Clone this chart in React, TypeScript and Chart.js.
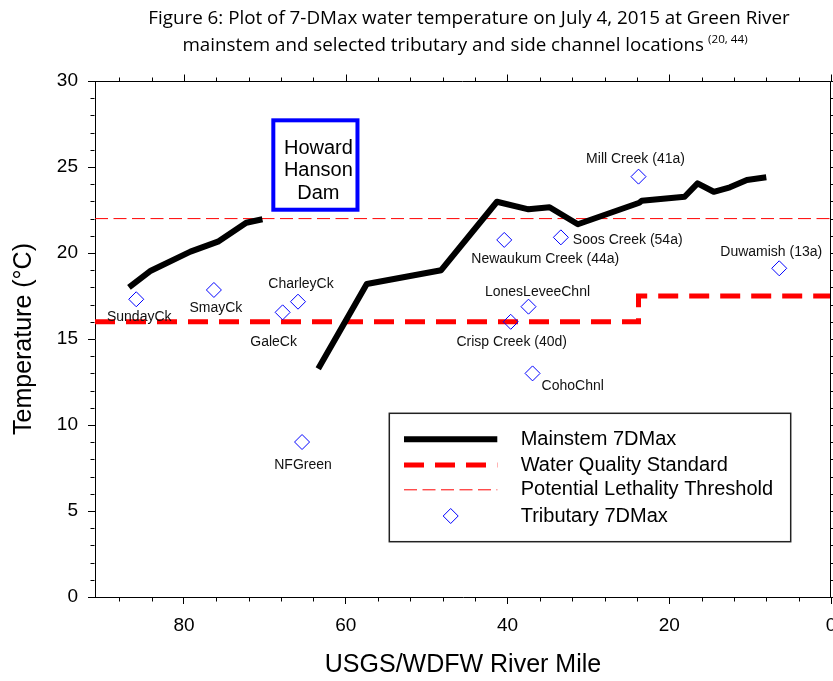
import React, { useEffect, useRef } from 'react';
import { Chart, registerables } from 'chart.js';

Chart.register(...registerables);

const FONT = '"Liberation Sans", Arial, Helvetica, sans-serif';
Chart.defaults.font.family = FONT;

// ---- Data ----
const mainstemMiles = [86.8, 84.1, 79.2, 75.8, 72.3, 70.3, 66.8, 63.4, 57.4, 48.2, 41.3, 37.4, 34.8, 31.3, 23.7, 23.4, 18.1, 16.5, 14.5, 12.5, 10.4, 8.0];
const mainstemTemps: (number | null)[] = [18.0, 18.97, 20.08, 20.66, 21.76, 21.96, null, 13.27, 18.2, 19.0, 22.98, 22.54, 22.66, 21.67, 22.92, 23.04, 23.27, 24.05, 23.56, 23.82, 24.24, 24.4];

const standardMiles = [91, 23.8, 23.8, 0];
const standardTemps = [16, 16, 17.5, 17.5];

const lethalMiles = [91, 0];
const lethalTemps = [22, 22];

const tribNames = ['SundayCk', 'SmayCk', 'GaleCk', 'CharleyCk', 'NFGreen', 'Newaukum Creek (44a)', 'Soos Creek (54a)', 'Mill Creek (41a)', 'Duwamish (13a)', 'LonesLeveeChnl', 'Crisp Creek (40d)', 'CohoChnl'];
const tribMiles = [85.9, 76.3, 67.8, 65.9, 65.4, 40.4, 33.4, 23.8, 6.4, 37.4, 39.6, 36.9];
const tribTemps = [17.31, 17.85, 16.55, 17.17, 9.01, 20.76, 20.91, 24.44, 19.11, 16.88, 16.0, 13.0];

const xTickStep = 20;
const yTickStep = 5;

// Dam annotation (data coordinates)
const damMiles = [69.2, 58.3];
const damTemps = [27.83, 22.4];
const damText = ['Howard', 'Hanson', 'Dam'];

const titleLine1 = 'Figure 6: Plot of 7-DMax water temperature on July 4, 2015 at Green River';
const titleLine2 = 'mainstem and selected tributary and side channel locations';
const titleSup = '(20, 44)';

const legendLabels = ['Mainstem 7DMax', 'Water Quality Standard', 'Potential Lethality Threshold', 'Tributary 7DMax'];

// label placement offsets (px) relative to each tributary marker
const labelOffsets: [number, number, CanvasTextAlign][] = [
  [3, 18, 'center'],
  [2, 18, 'center'],
  [-9, 30, 'center'],
  [3, -18, 'center'],
  [1, 23, 'center'],
  [41, 19, 'center'],
  [12, 3, 'left'],
  [-3, -17, 'center'],
  [-8, -16, 'center'],
  [9, -15, 'center'],
  [1, 20, 'center'],
  [9, 13, 'left'],
];

const BLUE = '#0000ff';
const RED = '#ff0000';

const decorPlugin = {
  id: 'decor',
  afterDraw(chart: any) {
    const { ctx, chartArea: ca, scales } = chart;
    const xs = scales.x;
    const ys = scales.y;
    ctx.save();

    // frame top/right + minor ticks
    ctx.strokeStyle = '#000';
    ctx.lineWidth = 1;
    ctx.beginPath();
    const top = Math.round(ca.top) + 0.5;
    const right = Math.round(ca.right) - 0.5;
    const bottom = Math.round(ca.bottom) + 0.5;
    const left = Math.round(ca.left) - 0.5;
    ctx.moveTo(left, top);
    ctx.lineTo(right, top);
    ctx.moveTo(right, top);
    ctx.lineTo(right, bottom);
    for (let m = 0; m <= 91; m += 4) {
      const px = Math.round(xs.getPixelForValue(m)) + 0.5;
      const major = m % xTickStep === 0;
      const len = major ? 7 : 4;
      ctx.moveTo(px, top);
      ctx.lineTo(px, top - len);
      if (!major) {
        ctx.moveTo(px, bottom);
        ctx.lineTo(px, bottom + 4);
      }
    }
    for (let t = 0; t <= 30; t += 1) {
      const py = Math.round(ys.getPixelForValue(t)) + 0.5;
      const major = t % yTickStep === 0;
      const len = major ? 7 : 4;
      ctx.moveTo(right, py);
      ctx.lineTo(right + len, py);
      if (!major) {
        ctx.moveTo(left, py);
        ctx.lineTo(left - 4, py);
      }
    }
    ctx.stroke();

    // tributary labels
    ctx.fillStyle = '#111';
    ctx.font = `14px ${FONT}`;
    ctx.textBaseline = 'middle';
    tribNames.forEach((name, i) => {
      const px = xs.getPixelForValue(tribMiles[i]);
      const py = ys.getPixelForValue(tribTemps[i]);
      const [dx, dy, align] = labelOffsets[i];
      ctx.textAlign = align;
      ctx.fillText(name, px + dx, py + dy);
    });

    // dam box
    const bx1 = xs.getPixelForValue(damMiles[0]);
    const bx2 = xs.getPixelForValue(damMiles[1]);
    const by1 = ys.getPixelForValue(damTemps[0]);
    const by2 = ys.getPixelForValue(damTemps[1]);
    ctx.strokeStyle = BLUE;
    ctx.lineWidth = 4;
    ctx.strokeRect(bx1 + 2, by1 + 2, bx2 - bx1 - 4, by2 - by1 - 4);
    ctx.fillStyle = '#000';
    ctx.font = `20px ${FONT}`;
    ctx.textAlign = 'center';
    const bcx = (bx1 + bx2) / 2 + 3;
    const bcy = (by1 + by2) / 2;
    damText.forEach((t, i) => ctx.fillText(t, bcx, bcy - 17 + i * 22.5));

    // legend
    const lx = ca.left + 294.3;
    const ly = ca.top + 332.3;
    const lw = 401.4;
    const lh = 128.4;
    ctx.fillStyle = '#fff';
    ctx.fillRect(lx, ly, lw, lh);
    ctx.strokeStyle = '#222';
    ctx.lineWidth = 1.5;
    ctx.strokeRect(lx, ly, lw, lh);
    const rows = [26, 51.7, 76, 102.7];
    const sx1 = lx + 14.7;
    const sx2 = lx + 108;
    ctx.setLineDash([]);
    ctx.strokeStyle = '#000';
    ctx.lineWidth = 6;
    ctx.beginPath();
    ctx.moveTo(sx1, ly + rows[0]);
    ctx.lineTo(sx2, ly + rows[0]);
    ctx.stroke();
    ctx.strokeStyle = RED;
    ctx.lineWidth = 5;
    ctx.setLineDash([20, 11]);
    ctx.beginPath();
    ctx.moveTo(sx1, ly + rows[1]);
    ctx.lineTo(sx2, ly + rows[1]);
    ctx.stroke();
    ctx.lineWidth = 1;
    ctx.setLineDash([13, 5.5]);
    ctx.beginPath();
    ctx.moveTo(sx1, ly + rows[2] + 0.5);
    ctx.lineTo(sx2, ly + rows[2] + 0.5);
    ctx.stroke();
    ctx.setLineDash([]);
    const dcx = lx + 61.4;
    const dcy = ly + rows[3];
    const r = 7.5;
    ctx.strokeStyle = BLUE;
    ctx.lineWidth = 1;
    ctx.beginPath();
    ctx.moveTo(dcx, dcy - r);
    ctx.lineTo(dcx + r, dcy);
    ctx.lineTo(dcx, dcy + r);
    ctx.lineTo(dcx - r, dcy);
    ctx.closePath();
    ctx.stroke();
    ctx.fillStyle = '#000';
    ctx.font = `20px ${FONT}`;
    ctx.textAlign = 'left';
    legendLabels.forEach((t, i) => ctx.fillText(t, lx + 131.4, ly + rows[i]));

    // figure title
    const tfam = '"Open Sans", "Noto Sans", sans-serif';
    ctx.font = `16px ${tfam}`;
    const w1 = ctx.measureText(titleLine1).width;
    const size = (16 * 642) / w1;
    ctx.font = `${size}px ${tfam}`;
    ctx.fillStyle = '#000';
    ctx.textAlign = 'center';
    ctx.fillText(titleLine1, 469, 19);
    const w2 = ctx.measureText(titleLine2).width;
    const supSize = size * 0.62;
    ctx.font = `${supSize}px ${tfam}`;
    const ws = ctx.measureText(titleSup).width;
    const gap = 4;
    const total = w2 + gap + ws;
    const startX = 465 - total / 2;
    ctx.font = `${size}px ${tfam}`;
    ctx.textAlign = 'left';
    ctx.fillText(titleLine2, startX, 46);
    ctx.font = `${supSize}px ${tfam}`;
    ctx.fillText(titleSup, startX + w2 + gap, 46 - size * 0.33);

    ctx.restore();
  },
};

export default function App() {
  const ref = useRef<HTMLCanvasElement>(null);
  useEffect(() => {
    const canvas = ref.current;
    if (!canvas) return;
    const chart = new Chart(canvas, {
      type: 'line',
      data: {
        datasets: [
          {
            label: 'Tributary 7DMax',
            data: tribMiles.map((m, i) => ({ x: m, y: tribTemps[i] })),
            showLine: false,
            pointStyle: 'rectRot',
            pointRadius: 7.5,
            pointBorderColor: BLUE,
            pointBackgroundColor: 'rgba(0,0,0,0)',
            pointBorderWidth: 1,
            borderColor: BLUE,
            order: 0,
          },
          {
            label: 'Mainstem 7DMax',
            data: mainstemMiles.map((m, i) => ({ x: m, y: mainstemTemps[i] as any })),
            borderColor: '#000',
            borderWidth: 6,
            pointRadius: 0,
            spanGaps: false,
            borderJoinStyle: 'round',
            borderCapStyle: 'butt',
            tension: 0,
            order: 1,
          },
          {
            label: 'Water Quality Standard',
            data: standardMiles.map((m, i) => ({ x: m, y: standardTemps[i] })),
            borderColor: RED,
            borderWidth: 5,
            borderDash: [20, 11],
            pointRadius: 0,
            tension: 0,
            order: 2,
          },
          {
            label: 'Potential Lethality Threshold',
            data: lethalMiles.map((m, i) => ({ x: m, y: lethalTemps[i] })),
            borderColor: RED,
            borderWidth: 1,
            borderDash: [13, 5.5],
            pointRadius: 0,
            tension: 0,
            order: 3,
          },
        ],
      },
      options: {
        responsive: false,
        animation: false,
        layout: { autoPadding: false, padding: { top: 81, right: 2, left: 0, bottom: 0 } },
        plugins: {
          legend: { display: false },
          tooltip: { enabled: false },
          title: { display: false },
        },
        scales: {
          x: {
            type: 'linear',
            reverse: true,
            min: 0,
            max: 91,
            ticks: {
              stepSize: xTickStep,
              includeBounds: false,
              color: '#000',
              font: { size: 19 },
              padding: 10,
              maxRotation: 0,
              autoSkip: false,
            },
            grid: { drawOnChartArea: false, drawTicks: true, tickLength: 7, color: '#000', lineWidth: 1 },
            border: { display: true, color: '#000', width: 1 },
            title: {
              display: true,
              text: 'USGS/WDFW River Mile',
              color: '#000',
              font: { size: 25 },
              padding: { top: 0, bottom: 1 },
            },
            afterFit: (s: any) => {
              s.height = 84;
              s.paddingLeft = 0;
              s.paddingRight = 0;
            },
          },
          y: {
            type: 'linear',
            min: 0,
            max: 30,
            ticks: {
              stepSize: yTickStep,
              includeBounds: false,
              color: '#000',
              font: { size: 19 },
              padding: 10,
            },
            grid: { drawOnChartArea: false, drawTicks: true, tickLength: 7, color: '#000', lineWidth: 1 },
            border: { display: true, color: '#000', width: 1 },
            title: {
              display: true,
              text: 'Temperature (°C)',
              color: '#000',
              font: { size: 25 },
              padding: { top: 9, bottom: 0 },
            },
            afterFit: (s: any) => {
              s.width = 95;
              s.paddingTop = 0;
              s.paddingBottom = 0;
            },
          },
        },
      },
      plugins: [decorPlugin],
    } as any);
    return () => chart.destroy();
  }, []);
  return (
    <div style={{ position: 'absolute', left: 0, top: 0, width: 833, height: 681, background: '#fff' }}>
      <canvas ref={ref} width={833} height={681} style={{ display: 'block', width: 833, height: 681 }} />
    </div>
  );
}
